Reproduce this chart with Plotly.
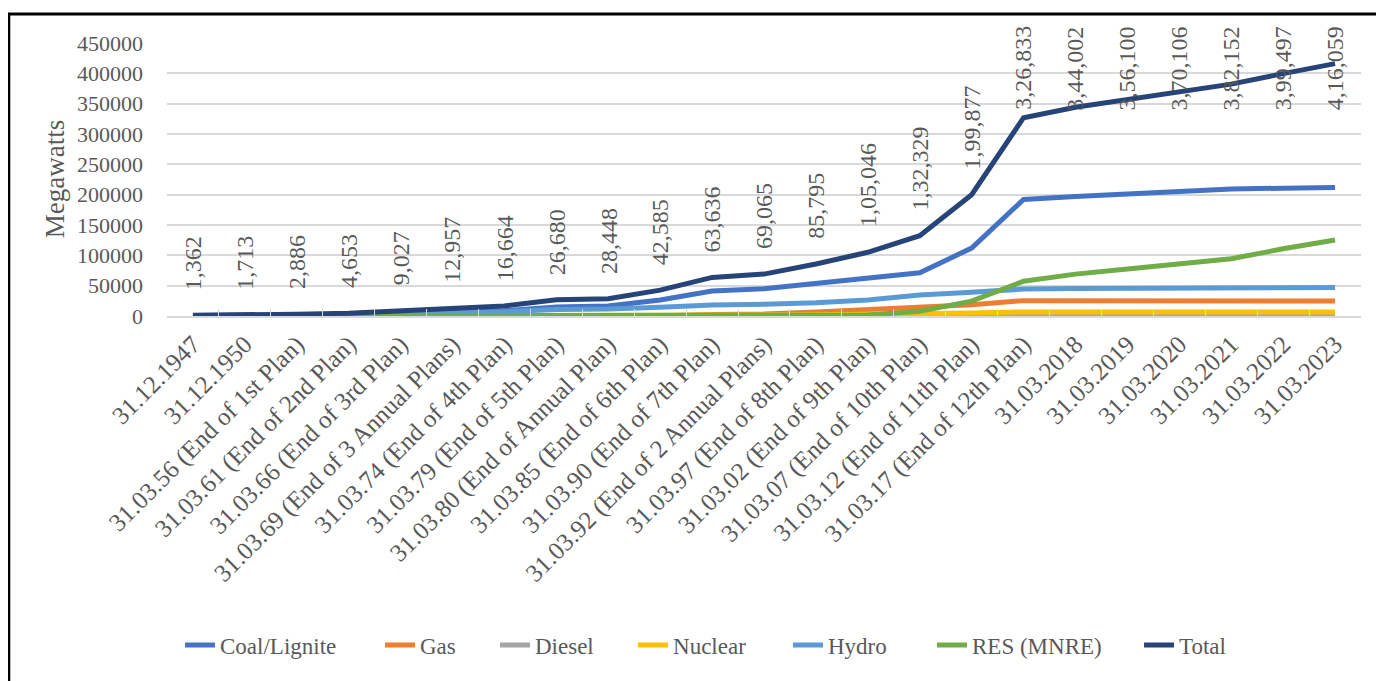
import plotly.graph_objects as go

categories = [
    "31.12.1947", "31.12.1950", "31.03.56 (End of 1st Plan)", "31.03.61 (End of 2nd Plan)",
    "31.03.66 (End of 3rd Plan)", "31.03.69 (End of 3 Annual Plans)", "31.03.74 (End of 4th Plan)",
    "31.03.79 (End of 5th Plan)", "31.03.80 (End of Annual Plan)", "31.03.85 (End of 6th Plan)",
    "31.03.90 (End of 7th Plan)", "31.03.92 (End of 2 Annual Plans)", "31.03.97 (End of 8th Plan)",
    "31.03.02 (End of 9th Plan)", "31.03.07 (End of 10th Plan)", "31.03.12 (End of 11th Plan)",
    "31.03.17 (End of 12th Plan)", "31.03.2018", "31.03.2019", "31.03.2020", "31.03.2021",
    "31.03.2022", "31.03.2023",
]

coal = [756, 1004, 1597, 2436, 4417, 6640, 8652, 14875, 16424, 26311, 41236, 44791, 54154,
        62131, 71121, 112022, 192163, 197172, 200705, 205135, 209294, 210700, 211855]
gas = [0, 0, 0, 0, 134, 134, 165, 168, 268, 542, 2343, 3095, 6562,
       11163, 13692, 18381, 25329, 24897, 24937, 24955, 24924, 24900, 24824]
diesel = [98, 149, 228, 300, 252, 276, 241, 164, 165, 177, 165, 168, 294,
          1135, 1202, 1200, 838, 838, 637, 510, 510, 510, 589]
nuclear = [0, 0, 0, 0, 0, 420, 640, 640, 640, 1095, 1565, 1785, 2225,
           2720, 3900, 4780, 6780, 6780, 6780, 6780, 6780, 6780, 6780]
hydro = [508, 560, 1061, 1917, 4124, 5907, 6966, 10833, 11384, 14460, 18307, 19194, 21658,
         26269, 34654, 38990, 44478, 45293, 45399, 45699, 46209, 46723, 46850]
res = [0, 0, 0, 0, 0, 0, 0, 0, 0, 0, 18, 32, 902,
       1628, 7760, 24503, 57244, 69022, 77642, 87028, 94434, 110736, 125160]
total = [1362, 1713, 2886, 4653, 9027, 12957, 16664, 26680, 28448, 42585, 63636, 69065, 85795,
         105046, 132329, 199877, 326833, 344002, 356100, 370106, 382152, 399497, 416059]
total_labels = ["1,362", "1,713", "2,886", "4,653", "9,027", "12,957", "16,664", "26,680",
                "28,448", "42,585", "63,636", "69,065", "85,795", "1,05,046", "1,32,329",
                "1,99,877", "3,26,833", "3,44,002", "3,56,100", "3,70,106", "3,82,152",
                "3,99,497", "4,16,059"]

series_names = ["Coal/Lignite", "Gas", "Diesel", "Nuclear", "Hydro", "RES (MNRE)", "Total"]
series_values = [coal, gas, diesel, nuclear, hydro, res, total]
series_colors = ["#4472C4", "#ED7D31", "#A5A5A5", "#FFC000", "#5B9BD5", "#70AD47", "#264478"]

# legend entry anchor positions (paper x) so entries spread like the original
legend_x = [0.0109, 0.1784, 0.2747, 0.3903, 0.5201, 0.6407, 0.8141]

FONT = "Liberation Serif"
TXT = "#595959"
LABEL_CAP = 298000  # labels are kept inside the chart area

fig = go.Figure()
for i, (name, vals, col) in enumerate(zip(series_names, series_values, series_colors)):
    lg = "legend" if i == 0 else f"legend{i + 1}"
    fig.add_trace(go.Scatter(
        x=categories, y=vals, name=name, mode="lines",
        line=dict(color=col, width=5),
        cliponaxis=False, legend=lg,
    ))

for cat, v, lab in zip(categories, total, total_labels):
    fig.add_annotation(
        x=cat, y=min(v, LABEL_CAP), text=lab, showarrow=False,
        textangle=-90, xanchor="center", yanchor="bottom", yshift=23,
        font=dict(family=FONT, size=24, color=TXT),
    )

# y-axis title
fig.add_annotation(
    xref="paper", yref="paper", x=-0.094, y=0.5, text="Megawatts",
    showarrow=False, textangle=-90, xanchor="center", yanchor="middle",
    font=dict(family=FONT, size=27, color=TXT),
)

# outer border (black)
fig.add_shape(
    type="rect", xref="paper", yref="paper",
    x0=-0.1325, y0=-1.6, x1=1.1, y1=1.106,
    line=dict(color="black", width=3), layer="below",
)

legend_common = dict(
    orientation="h", y=-1.205, xanchor="left", yanchor="middle",
    font=dict(family=FONT, size=23, color=TXT), bgcolor="rgba(0,0,0,0)",
)
legends = {}
for i, lx in enumerate(legend_x):
    key = "legend" if i == 0 else f"legend{i + 1}"
    legends[key] = dict(legend_common, x=lx)

fig.update_layout(
    width=1376, height=673,
    margin=dict(l=159, r=23, t=35, b=365),
    paper_bgcolor="white", plot_bgcolor="white",
    font=dict(family=FONT, color=TXT),
    showlegend=True,
    xaxis=dict(
        type="category", tickangle=-45, tickfont=dict(family=FONT, size=25, color=TXT),
        showgrid=False, showline=True, linecolor="#D9D9D9", linewidth=1.5,
        ticks="inside", tickson="boundaries", ticklen=7, tickcolor="#D9D9D9",
        range=[-0.5, len(categories) - 0.5], ticklabelstandoff=2,
    ),
    yaxis=dict(
        range=[0, 450000], dtick=50000, tickformat="d",
        tickfont=dict(family=FONT, size=22, color=TXT),
        showgrid=True, gridcolor="#D9D9D9", gridwidth=1.5,
        zeroline=False, showline=False, ticks="", ticklabelstandoff=23,
    ),
    **legends,
)

fig.write_html("out.html")
